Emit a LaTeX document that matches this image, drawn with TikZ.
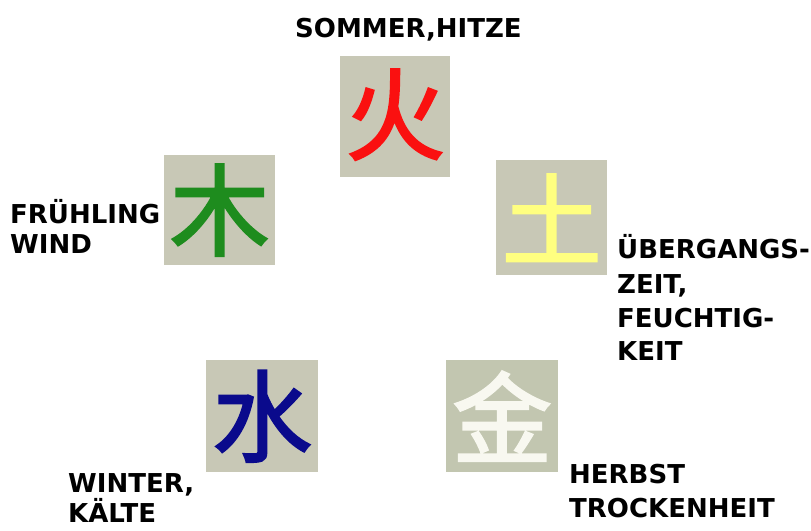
\documentclass[tikz,border=0pt]{standalone}
\usepackage{fontspec}
\setmainfont{DejaVu Sans}
\newfontfamily\cjk{Noto Sans CJK SC}[FakeBold=2]
\definecolor{tilebg}{RGB}{200,200,182}
\definecolor{metalbg}{RGB}{194,198,176}
\definecolor{firered}{RGB}{250,16,16}
\definecolor{woodgreen}{RGB}{30,140,30}
\definecolor{earthyellow}{RGB}{255,255,128}
\definecolor{waterblue}{RGB}{10,10,140}
\definecolor{metalwhite}{RGB}{248,248,240}
\begin{document}
\begin{tikzpicture}[x=1pt,y=1pt,
  tile/.style={fill=tilebg, draw=none, inner sep=0pt, anchor=north west},
  glyph/.style={inner sep=0pt, font=\cjk\fontsize{100}{100}\selectfont},
  lbl/.style={inner sep=0pt, anchor=base west, font=\bfseries\fontsize{26}{30}\selectfont}]
\useasboundingbox (0,0) rectangle (811,-530);
% tiles
\node[tile, minimum width=110pt, minimum height=121pt] (fire) at (340,-56) {};
\node[tile, minimum width=111pt, minimum height=110pt] (wood) at (164,-155) {};
\node[tile, minimum width=111pt, minimum height=115pt] (earth) at (496,-160) {};
\node[tile, minimum width=112pt, minimum height=112pt] (water) at (206,-360) {};
\node[tile, fill=metalbg, minimum width=112pt, minimum height=112pt] (metal) at (446,-360) {};
% characters
\node[glyph, text=firered] (firech) at ([yshift=2pt]fire.center) {火};
\node[glyph, text=woodgreen] (woodch) at (wood.center) {木};
\node[glyph, text=earthyellow] (earthch) at (earth.center) {土};
\node[glyph, text=waterblue] (waterch) at (water.center) {水};
\node[glyph, text=metalwhite] (metalch) at (metal.center) {金};
% labels
\node[lbl] (summer) at (295,-37) {SOMMER,HITZE};
\node[lbl] (spring1) at (10,-223) {FRÜHLING};
\node[lbl] (spring2) at (10,-253) {WIND};
\node[lbl] (late1) at (617,-258) {ÜBERGANGS-};
\node[lbl] (late2) at (617,-293) {ZEIT,};
\node[lbl] (late3) at (617,-327) {FEUCHTIG-};
\node[lbl] (late4) at (617,-360) {KEIT};
\node[lbl] (autumn1) at (569,-483) {HERBST};
\node[lbl] (autumn2) at (569,-517) {TROCKENHEIT};
\node[lbl] (winter1) at (68,-492) {WINTER,};
\node[lbl] (winter2) at (68,-522) {KÄLTE};
\end{tikzpicture}
\end{document}
